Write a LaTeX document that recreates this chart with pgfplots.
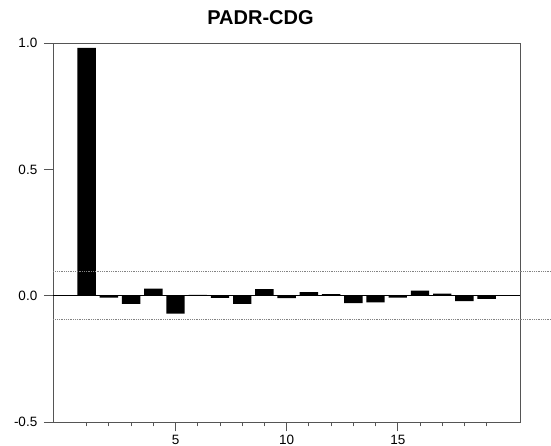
\documentclass[border=0pt]{standalone}
\usepackage{pgfplots}
\pgfplotsset{compat=1.18}
\usepackage{fontspec}
\setmainfont{Liberation Sans}
\definecolor{axgray}{RGB}{85,85,85}
\definecolor{dotgray}{RGB}{130,130,130}
\begin{document}
\begin{tikzpicture}
\useasboundingbox (0,0) rectangle (551pt,446pt);
\begin{axis}[
  at={(53.3pt,24pt)}, anchor=south west,
  scale only axis, width=466.7pt, height=378.7pt,
  xmin=-0.5, xmax=20.5, ymin=-0.5, ymax=1.0,
  clip=false,
  axis line style={axgray, line width=0.9pt},
  ytick={-0.5,0,0.5,1}, yticklabels={-0.5,0.0,0.5,1.0},
  xtick={5,10,15}, minor xtick={1,...,19},
  tick align=outside, major tick length=9.5pt, minor tick length=4.5pt,
  every tick/.style={axgray, line width=0.8pt},
  xtick pos=bottom, ytick pos=left,
  tick label style={font=\fontsize{13.5}{13.5}\selectfont},
  yticklabel style={xshift=-3pt},
  /pgf/number format/assume math mode=true,
  title={PADR-CDG},
  title style={font=\fontsize{20}{20}\selectfont\bfseries, at={(0.444,1)}, anchor=base, yshift=13pt},
]
\addplot[ybar, fill=black, draw=none, bar width=18.4pt] coordinates {
(1,0.982) (2,-0.007) (3,-0.032) (4,0.028) (5,-0.071) (6,0.004) (7,-0.008)
(8,-0.032) (9,0.026) (10,-0.009) (11,0.014) (12,0.006) (13,-0.029) (14,-0.026)
(15,-0.007) (16,0.020) (17,0.008) (18,-0.021) (19,-0.012)
};
\addplot[black, line width=0.9pt] coordinates {(-0.5,0) (20.5,0)};
\addplot[dotgray, densely dotted, line width=0.8pt] coordinates {(-0.5,0.095) (21.9,0.095)};
\addplot[dotgray, densely dotted, line width=0.8pt] coordinates {(-0.5,-0.095) (21.9,-0.095)};
\end{axis}
\end{tikzpicture}
\end{document}
